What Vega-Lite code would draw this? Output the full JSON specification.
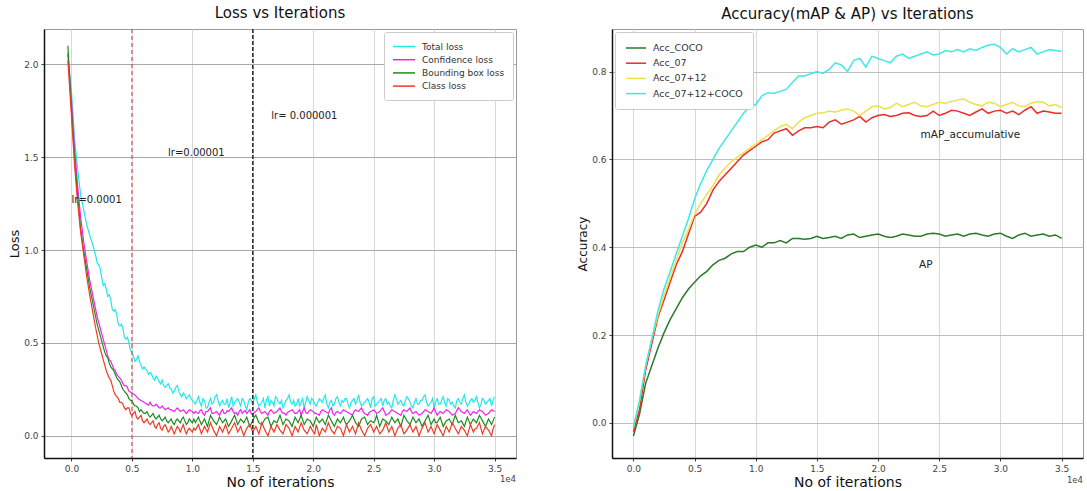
{
"$schema": "https://vega.github.io/schema/vega-lite/v6.json",
"padding": {"left": 8, "top": 5, "right": 0, "bottom": 0},
"bounds": "flush",
"spacing": 96,
"resolve": {"scale": {"color": "independent"}, "legend": {"color": "independent"}},
"config": {
  "font": "DejaVu Sans",
  "view": {"stroke": "#9a9a9a", "strokeWidth": 1},
  "axis": {"labelFont": "DejaVu Sans", "labelFontSize": 9, "labelColor": "#444444", "tickColor": "#444444", "tickSize": 3, "labelPadding": 3, "domainColor": "#111111", "domainWidth": 1.5, "titleFont": "DejaVu Sans", "titleFontWeight": "normal", "titleColor": "#111111", "gridColor": "#d8d8d8", "gridWidth": 1, "labelFlush": false, "titlePadding": 2},
  "title": {"font": "DejaVu Sans", "fontSize": 15, "fontWeight": "normal", "color": "#111111", "offset": 7},
  "legend": {"title": null, "fillColor": "#ffffff", "strokeColor": "#cccccc", "cornerRadius": 2, "labelFont": "DejaVu Sans", "labelColor": "#333333", "symbolType": "M-1,0L3,0", "symbolStrokeWidth": 1.5}
},
"hconcat": [
{
  "width": 472, "height": 429,
  "title": {"text": "Loss vs Iterations"},
  "layer": [
  {
    "data": {"values": [
{"it":-300,"Total loss":2.05,"Confidence loss":2.06,"Bounding box loss":2.10,"Class loss":2.02},
{"it":0,"Total loss":1.85,"Confidence loss":1.80,"Bounding box loss":1.75,"Class loss":1.72},
{"it":250,"Total loss":1.60,"Confidence loss":1.55,"Bounding box loss":1.50,"Class loss":1.46},
{"it":500,"Total loss":1.44,"Confidence loss":1.35,"Bounding box loss":1.30,"Class loss":1.26},
{"it":750,"Total loss":1.30,"Confidence loss":1.18,"Bounding box loss":1.12,"Class loss":1.10},
{"it":1000,"Total loss":1.22,"Confidence loss":1.05,"Bounding box loss":1.00,"Class loss":0.98},
{"it":1250,"Total loss":1.14,"Confidence loss":0.94,"Bounding box loss":0.90,"Class loss":0.86},
{"it":1500,"Total loss":1.08,"Confidence loss":0.84,"Bounding box loss":0.80,"Class loss":0.76},
{"it":1750,"Total loss":1.03,"Confidence loss":0.76,"Bounding box loss":0.72,"Class loss":0.67},
{"it":2000,"Total loss":0.97,"Confidence loss":0.68,"Bounding box loss":0.64,"Class loss":0.58},
{"it":2250,"Total loss":0.92,"Confidence loss":0.61,"Bounding box loss":0.57,"Class loss":0.50},
{"it":2500,"Total loss":0.85,"Confidence loss":0.55,"Bounding box loss":0.51,"Class loss":0.44},
{"it":2750,"Total loss":0.82,"Confidence loss":0.49,"Bounding box loss":0.45,"Class loss":0.38},
{"it":3000,"Total loss":0.75,"Confidence loss":0.43,"Bounding box loss":0.42,"Class loss":0.33},
{"it":3250,"Total loss":0.73,"Confidence loss":0.40,"Bounding box loss":0.37,"Class loss":0.30},
{"it":3500,"Total loss":0.67,"Confidence loss":0.36,"Bounding box loss":0.35,"Class loss":0.24},
{"it":3750,"Total loss":0.65,"Confidence loss":0.33,"Bounding box loss":0.31,"Class loss":0.21},
{"it":4000,"Total loss":0.59,"Confidence loss":0.31,"Bounding box loss":0.29,"Class loss":0.18},
{"it":4250,"Total loss":0.58,"Confidence loss":0.28,"Bounding box loss":0.25,"Class loss":0.17},
{"it":4500,"Total loss":0.52,"Confidence loss":0.27,"Bounding box loss":0.23,"Class loss":0.14},
{"it":4750,"Total loss":0.50,"Confidence loss":0.24,"Bounding box loss":0.20,"Class loss":0.15},
{"it":5000,"Total loss":0.45,"Confidence loss":0.23,"Bounding box loss":0.19,"Class loss":0.11},
{"it":5250,"Total loss":0.40,"Confidence loss":0.22,"Bounding box loss":0.16,"Class loss":0.13},
{"it":5500,"Total loss":0.43,"Confidence loss":0.20,"Bounding box loss":0.15,"Class loss":0.09},
{"it":5750,"Total loss":0.38,"Confidence loss":0.19,"Bounding box loss":0.14,"Class loss":0.11},
{"it":6000,"Total loss":0.37,"Confidence loss":0.18,"Bounding box loss":0.12,"Class loss":0.07},
{"it":6250,"Total loss":0.35,"Confidence loss":0.17,"Bounding box loss":0.13,"Class loss":0.09},
{"it":6500,"Total loss":0.34,"Confidence loss":0.18,"Bounding box loss":0.10,"Class loss":0.06},
{"it":6750,"Total loss":0.31,"Confidence loss":0.16,"Bounding box loss":0.12,"Class loss":0.08},
{"it":7000,"Total loss":0.32,"Confidence loss":0.17,"Bounding box loss":0.09,"Class loss":0.04},
{"it":7250,"Total loss":0.29,"Confidence loss":0.15,"Bounding box loss":0.11,"Class loss":0.07},
{"it":7500,"Total loss":0.30,"Confidence loss":0.16,"Bounding box loss":0.08,"Class loss":0.03},
{"it":7750,"Total loss":0.26,"Confidence loss":0.14,"Bounding box loss":0.10,"Class loss":0.06},
{"it":8000,"Total loss":0.28,"Confidence loss":0.15,"Bounding box loss":0.07,"Class loss":0.02},
{"it":8250,"Total loss":0.25,"Confidence loss":0.14,"Bounding box loss":0.09,"Class loss":0.05},
{"it":8500,"Total loss":0.24,"Confidence loss":0.13,"Bounding box loss":0.06,"Class loss":0.01},
{"it":8750,"Total loss":0.27,"Confidence loss":0.15,"Bounding box loss":0.09,"Class loss":0.05},
{"it":9000,"Total loss":0.22,"Confidence loss":0.13,"Bounding box loss":0.07,"Class loss":0.02},
{"it":9250,"Total loss":0.23,"Confidence loss":0.14,"Bounding box loss":0.10,"Class loss":0.06},
{"it":9500,"Total loss":0.20,"Confidence loss":0.12,"Bounding box loss":0.06,"Class loss":0.01},
{"it":9750,"Total loss":0.22,"Confidence loss":0.14,"Bounding box loss":0.09,"Class loss":0.04},
{"it":10000,"Total loss":0.19,"Confidence loss":0.13,"Bounding box loss":0.07,"Class loss":0.02},
{"it":10250,"Total loss":0.17,"Confidence loss":0.13,"Bounding box loss":0.07,"Class loss":0.03},
{"it":10500,"Total loss":0.21,"Confidence loss":0.12,"Bounding box loss":0.10,"Class loss":0.06},
{"it":10750,"Total loss":0.16,"Confidence loss":0.14,"Bounding box loss":0.06,"Class loss":0.01},
{"it":11000,"Total loss":0.19,"Confidence loss":0.11,"Bounding box loss":0.09,"Class loss":0.05},
{"it":11250,"Total loss":0.15,"Confidence loss":0.13,"Bounding box loss":0.05,"Class loss":0.02},
{"it":11500,"Total loss":0.20,"Confidence loss":0.15,"Bounding box loss":0.11,"Class loss":0.07},
{"it":11750,"Total loss":0.18,"Confidence loss":0.12,"Bounding box loss":0.08,"Class loss":0.03},
{"it":12000,"Total loss":0.22,"Confidence loss":0.13,"Bounding box loss":0.06,"Class loss":0.00},
{"it":12250,"Total loss":0.16,"Confidence loss":0.11,"Bounding box loss":0.10,"Class loss":0.05},
{"it":12500,"Total loss":0.19,"Confidence loss":0.14,"Bounding box loss":0.07,"Class loss":0.02},
{"it":12750,"Total loss":0.17,"Confidence loss":0.12,"Bounding box loss":0.09,"Class loss":0.06},
{"it":13000,"Total loss":0.15,"Confidence loss":0.13,"Bounding box loss":0.05,"Class loss":0.01},
{"it":13250,"Total loss":0.21,"Confidence loss":0.15,"Bounding box loss":0.08,"Class loss":0.04},
{"it":13500,"Total loss":0.18,"Confidence loss":0.12,"Bounding box loss":0.11,"Class loss":0.07},
{"it":13750,"Total loss":0.20,"Confidence loss":0.11,"Bounding box loss":0.06,"Class loss":0.02},
{"it":14000,"Total loss":0.16,"Confidence loss":0.14,"Bounding box loss":0.09,"Class loss":0.05},
{"it":14250,"Total loss":0.19,"Confidence loss":0.13,"Bounding box loss":0.07,"Class loss":0.00},
{"it":14500,"Total loss":0.14,"Confidence loss":0.12,"Bounding box loss":0.10,"Class loss":0.04},
{"it":14750,"Total loss":0.20,"Confidence loss":0.14,"Bounding box loss":0.05,"Class loss":0.06},
{"it":15000,"Total loss":0.17,"Confidence loss":0.11,"Bounding box loss":0.08,"Class loss":0.02},
{"it":15250,"Total loss":0.22,"Confidence loss":0.13,"Bounding box loss":0.11,"Class loss":0.05},
{"it":15500,"Total loss":0.16,"Confidence loss":0.15,"Bounding box loss":0.07,"Class loss":0.01},
{"it":15750,"Total loss":0.18,"Confidence loss":0.12,"Bounding box loss":0.06,"Class loss":0.07},
{"it":16000,"Total loss":0.15,"Confidence loss":0.13,"Bounding box loss":0.09,"Class loss":0.03},
{"it":16250,"Total loss":0.21,"Confidence loss":0.11,"Bounding box loss":0.10,"Class loss":0.00},
{"it":16500,"Total loss":0.19,"Confidence loss":0.14,"Bounding box loss":0.05,"Class loss":0.05},
{"it":16750,"Total loss":0.16,"Confidence loss":0.12,"Bounding box loss":0.08,"Class loss":0.02},
{"it":17000,"Total loss":0.20,"Confidence loss":0.13,"Bounding box loss":0.07,"Class loss":0.06},
{"it":17250,"Total loss":0.17,"Confidence loss":0.15,"Bounding box loss":0.11,"Class loss":0.03},
{"it":17500,"Total loss":0.15,"Confidence loss":0.12,"Bounding box loss":0.06,"Class loss":0.01},
{"it":17750,"Total loss":0.19,"Confidence loss":0.11,"Bounding box loss":0.09,"Class loss":0.06},
{"it":18000,"Total loss":0.22,"Confidence loss":0.13,"Bounding box loss":0.08,"Class loss":0.04},
{"it":18250,"Total loss":0.17,"Confidence loss":0.14,"Bounding box loss":0.05,"Class loss":0.00},
{"it":18500,"Total loss":0.16,"Confidence loss":0.12,"Bounding box loss":0.10,"Class loss":0.05},
{"it":18750,"Total loss":0.20,"Confidence loss":0.13,"Bounding box loss":0.07,"Class loss":0.02},
{"it":19000,"Total loss":0.18,"Confidence loss":0.11,"Bounding box loss":0.11,"Class loss":0.07},
{"it":19250,"Total loss":0.15,"Confidence loss":0.15,"Bounding box loss":0.06,"Class loss":0.03},
{"it":19500,"Total loss":0.21,"Confidence loss":0.12,"Bounding box loss":0.09,"Class loss":0.01},
{"it":19750,"Total loss":0.17,"Confidence loss":0.14,"Bounding box loss":0.08,"Class loss":0.05},
{"it":20000,"Total loss":0.19,"Confidence loss":0.13,"Bounding box loss":0.05,"Class loss":0.02},
{"it":20250,"Total loss":0.16,"Confidence loss":0.12,"Bounding box loss":0.10,"Class loss":0.06},
{"it":20500,"Total loss":0.20,"Confidence loss":0.11,"Bounding box loss":0.07,"Class loss":0.00},
{"it":20750,"Total loss":0.18,"Confidence loss":0.14,"Bounding box loss":0.09,"Class loss":0.04},
{"it":21000,"Total loss":0.22,"Confidence loss":0.13,"Bounding box loss":0.06,"Class loss":0.02},
{"it":21250,"Total loss":0.15,"Confidence loss":0.12,"Bounding box loss":0.11,"Class loss":0.07},
{"it":21500,"Total loss":0.19,"Confidence loss":0.15,"Bounding box loss":0.08,"Class loss":0.03},
{"it":21750,"Total loss":0.17,"Confidence loss":0.11,"Bounding box loss":0.05,"Class loss":0.01},
{"it":22000,"Total loss":0.21,"Confidence loss":0.13,"Bounding box loss":0.09,"Class loss":0.05},
{"it":22250,"Total loss":0.16,"Confidence loss":0.12,"Bounding box loss":0.07,"Class loss":0.04},
{"it":22500,"Total loss":0.18,"Confidence loss":0.14,"Bounding box loss":0.10,"Class loss":0.00},
{"it":22750,"Total loss":0.20,"Confidence loss":0.13,"Bounding box loss":0.06,"Class loss":0.06},
{"it":23000,"Total loss":0.15,"Confidence loss":0.12,"Bounding box loss":0.08,"Class loss":0.02},
{"it":23250,"Total loss":0.19,"Confidence loss":0.11,"Bounding box loss":0.11,"Class loss":0.05},
{"it":23500,"Total loss":0.17,"Confidence loss":0.14,"Bounding box loss":0.07,"Class loss":0.01},
{"it":23750,"Total loss":0.22,"Confidence loss":0.13,"Bounding box loss":0.05,"Class loss":0.07},
{"it":24000,"Total loss":0.16,"Confidence loss":0.15,"Bounding box loss":0.09,"Class loss":0.03},
{"it":24250,"Total loss":0.18,"Confidence loss":0.12,"Bounding box loss":0.10,"Class loss":0.00},
{"it":24500,"Total loss":0.20,"Confidence loss":0.11,"Bounding box loss":0.06,"Class loss":0.04},
{"it":24750,"Total loss":0.15,"Confidence loss":0.13,"Bounding box loss":0.08,"Class loss":0.06},
{"it":25000,"Total loss":0.21,"Confidence loss":0.14,"Bounding box loss":0.07,"Class loss":0.02},
{"it":25250,"Total loss":0.17,"Confidence loss":0.12,"Bounding box loss":0.11,"Class loss":0.05},
{"it":25500,"Total loss":0.19,"Confidence loss":0.13,"Bounding box loss":0.05,"Class loss":0.01},
{"it":25750,"Total loss":0.16,"Confidence loss":0.15,"Bounding box loss":0.09,"Class loss":0.03},
{"it":26000,"Total loss":0.20,"Confidence loss":0.11,"Bounding box loss":0.08,"Class loss":0.07},
{"it":26250,"Total loss":0.18,"Confidence loss":0.12,"Bounding box loss":0.06,"Class loss":0.02},
{"it":26500,"Total loss":0.15,"Confidence loss":0.14,"Bounding box loss":0.10,"Class loss":0.05},
{"it":26750,"Total loss":0.22,"Confidence loss":0.13,"Bounding box loss":0.07,"Class loss":0.00},
{"it":27000,"Total loss":0.17,"Confidence loss":0.12,"Bounding box loss":0.09,"Class loss":0.04},
{"it":27250,"Total loss":0.19,"Confidence loss":0.11,"Bounding box loss":0.05,"Class loss":0.06},
{"it":27500,"Total loss":0.16,"Confidence loss":0.14,"Bounding box loss":0.11,"Class loss":0.01},
{"it":27750,"Total loss":0.21,"Confidence loss":0.13,"Bounding box loss":0.08,"Class loss":0.03},
{"it":28000,"Total loss":0.18,"Confidence loss":0.15,"Bounding box loss":0.06,"Class loss":0.06},
{"it":28250,"Total loss":0.15,"Confidence loss":0.12,"Bounding box loss":0.10,"Class loss":0.02},
{"it":28500,"Total loss":0.20,"Confidence loss":0.13,"Bounding box loss":0.07,"Class loss":0.05},
{"it":28750,"Total loss":0.17,"Confidence loss":0.11,"Bounding box loss":0.09,"Class loss":0.00},
{"it":29000,"Total loss":0.19,"Confidence loss":0.12,"Bounding box loss":0.05,"Class loss":0.04},
{"it":29250,"Total loss":0.22,"Confidence loss":0.14,"Bounding box loss":0.08,"Class loss":0.07},
{"it":29500,"Total loss":0.16,"Confidence loss":0.13,"Bounding box loss":0.11,"Class loss":0.02},
{"it":29750,"Total loss":0.18,"Confidence loss":0.12,"Bounding box loss":0.06,"Class loss":0.05},
{"it":30000,"Total loss":0.15,"Confidence loss":0.15,"Bounding box loss":0.09,"Class loss":0.01},
{"it":30250,"Total loss":0.20,"Confidence loss":0.11,"Bounding box loss":0.07,"Class loss":0.06},
{"it":30500,"Total loss":0.17,"Confidence loss":0.13,"Bounding box loss":0.10,"Class loss":0.03},
{"it":30750,"Total loss":0.21,"Confidence loss":0.12,"Bounding box loss":0.05,"Class loss":0.00},
{"it":31000,"Total loss":0.16,"Confidence loss":0.14,"Bounding box loss":0.08,"Class loss":0.05},
{"it":31250,"Total loss":0.19,"Confidence loss":0.13,"Bounding box loss":0.09,"Class loss":0.02},
{"it":31500,"Total loss":0.18,"Confidence loss":0.11,"Bounding box loss":0.06,"Class loss":0.07},
{"it":31750,"Total loss":0.15,"Confidence loss":0.12,"Bounding box loss":0.11,"Class loss":0.04},
{"it":32000,"Total loss":0.20,"Confidence loss":0.15,"Bounding box loss":0.07,"Class loss":0.01},
{"it":32250,"Total loss":0.17,"Confidence loss":0.13,"Bounding box loss":0.08,"Class loss":0.05},
{"it":32500,"Total loss":0.22,"Confidence loss":0.12,"Bounding box loss":0.05,"Class loss":0.03},
{"it":32750,"Total loss":0.16,"Confidence loss":0.14,"Bounding box loss":0.10,"Class loss":0.00},
{"it":33000,"Total loss":0.19,"Confidence loss":0.11,"Bounding box loss":0.06,"Class loss":0.06},
{"it":33250,"Total loss":0.18,"Confidence loss":0.13,"Bounding box loss":0.09,"Class loss":0.02},
{"it":33500,"Total loss":0.21,"Confidence loss":0.12,"Bounding box loss":0.07,"Class loss":0.04},
{"it":33750,"Total loss":0.15,"Confidence loss":0.14,"Bounding box loss":0.11,"Class loss":0.07},
{"it":34000,"Total loss":0.20,"Confidence loss":0.13,"Bounding box loss":0.08,"Class loss":0.01},
{"it":34250,"Total loss":0.17,"Confidence loss":0.11,"Bounding box loss":0.05,"Class loss":0.05},
{"it":34500,"Total loss":0.19,"Confidence loss":0.12,"Bounding box loss":0.09,"Class loss":0.03},
{"it":34750,"Total loss":0.16,"Confidence loss":0.14,"Bounding box loss":0.06,"Class loss":0.00},
{"it":35000,"Total loss":0.21,"Confidence loss":0.13,"Bounding box loss":0.10,"Class loss":0.06},
{"it":2125,"Total loss":0.93,"Confidence loss":0.64,"Bounding box loss":0.60,"Class loss":0.54},
{"it":2375,"Total loss":0.90,"Confidence loss":0.58,"Bounding box loss":0.54,"Class loss":0.47},
{"it":2625,"Total loss":0.81,"Confidence loss":0.52,"Bounding box loss":0.48,"Class loss":0.41},
{"it":2875,"Total loss":0.79,"Confidence loss":0.46,"Bounding box loss":0.43,"Class loss":0.35},
{"it":3125,"Total loss":0.76,"Confidence loss":0.41,"Bounding box loss":0.39,"Class loss":0.31},
{"it":3375,"Total loss":0.68,"Confidence loss":0.38,"Bounding box loss":0.36,"Class loss":0.27},
{"it":3625,"Total loss":0.68,"Confidence loss":0.35,"Bounding box loss":0.33,"Class loss":0.22},
{"it":3875,"Total loss":0.60,"Confidence loss":0.32,"Bounding box loss":0.30,"Class loss":0.20},
{"it":4125,"Total loss":0.60,"Confidence loss":0.30,"Bounding box loss":0.27,"Class loss":0.18},
{"it":4375,"Total loss":0.53,"Confidence loss":0.27,"Bounding box loss":0.24,"Class loss":0.15},
{"it":4625,"Total loss":0.53,"Confidence loss":0.26,"Bounding box loss":0.22,"Class loss":0.15},
{"it":4875,"Total loss":0.46,"Confidence loss":0.235,"Bounding box loss":0.19,"Class loss":0.12},
{"it":5125,"Total loss":0.43,"Confidence loss":0.225,"Bounding box loss":0.17,"Class loss":0.12},
{"it":5375,"Total loss":0.41,"Confidence loss":0.21,"Bounding box loss":0.16,"Class loss":0.10},
{"it":5625,"Total loss":0.40,"Confidence loss":0.195,"Bounding box loss":0.13,"Class loss":0.10},
{"it":5875,"Total loss":0.36,"Confidence loss":0.185,"Bounding box loss":0.13,"Class loss":0.08},
{"it":6125,"Total loss":0.36,"Confidence loss":0.175,"Bounding box loss":0.12,"Class loss":0.08},
{"it":6375,"Total loss":0.33,"Confidence loss":0.165,"Bounding box loss":0.11,"Class loss":0.07},
{"it":6625,"Total loss":0.33,"Confidence loss":0.165,"Bounding box loss":0.11,"Class loss":0.07},
{"it":6875,"Total loss":0.30,"Confidence loss":0.16,"Bounding box loss":0.10,"Class loss":0.05},
{"it":7125,"Total loss":0.31,"Confidence loss":0.16,"Bounding box loss":0.10,"Class loss":0.06},
{"it":7375,"Total loss":0.28,"Confidence loss":0.15,"Bounding box loss":0.09,"Class loss":0.04},
{"it":7625,"Total loss":0.27,"Confidence loss":0.15,"Bounding box loss":0.09,"Class loss":0.05},
{"it":7875,"Total loss":0.27,"Confidence loss":0.145,"Bounding box loss":0.08,"Class loss":0.04},
{"it":8125,"Total loss":0.26,"Confidence loss":0.14,"Bounding box loss":0.08,"Class loss":0.03},
{"it":8375,"Total loss":0.23,"Confidence loss":0.135,"Bounding box loss":0.07,"Class loss":0.03},
{"it":8625,"Total loss":0.26,"Confidence loss":0.14,"Bounding box loss":0.08,"Class loss":0.03},
{"it":8875,"Total loss":0.24,"Confidence loss":0.14,"Bounding box loss":0.08,"Class loss":0.04},
{"it":9125,"Total loss":0.21,"Confidence loss":0.135,"Bounding box loss":0.09,"Class loss":0.04},
{"it":9375,"Total loss":0.22,"Confidence loss":0.13,"Bounding box loss":0.08,"Class loss":0.03},
{"it":9625,"Total loss":0.21,"Confidence loss":0.13,"Bounding box loss":0.07,"Class loss":0.03},
{"it":9875,"Total loss":0.20,"Confidence loss":0.135,"Bounding box loss":0.08,"Class loss":0.03},
{"it":10125,"Total loss":0.18,"Confidence loss":0.12,"Bounding box loss":0.09,"Class loss":0.04},
{"it":10375,"Total loss":0.19,"Confidence loss":0.125,"Bounding box loss":0.085,"Class loss":0.045},
{"it":10625,"Total loss":0.18,"Confidence loss":0.135,"Bounding box loss":0.08,"Class loss":0.035},
{"it":10875,"Total loss":0.20,"Confidence loss":0.12,"Bounding box loss":0.075,"Class loss":0.03},
{"it":11125,"Total loss":0.15,"Confidence loss":0.13,"Bounding box loss":0.07,"Class loss":0.035},
{"it":11375,"Total loss":0.18,"Confidence loss":0.14,"Bounding box loss":0.08,"Class loss":0.045},
{"it":11625,"Total loss":0.17,"Confidence loss":0.12,"Bounding box loss":0.095,"Class loss":0.05},
{"it":11875,"Total loss":0.21,"Confidence loss":0.125,"Bounding box loss":0.07,"Class loss":0.015},
{"it":12125,"Total loss":0.19,"Confidence loss":0.12,"Bounding box loss":0.08,"Class loss":0.025},
{"it":12375,"Total loss":0.18,"Confidence loss":0.13,"Bounding box loss":0.085,"Class loss":0.035},
{"it":12625,"Total loss":0.17,"Confidence loss":0.12,"Bounding box loss":0.08,"Class loss":0.04},
{"it":12875,"Total loss":0.20,"Confidence loss":0.135,"Bounding box loss":0.07,"Class loss":0.035},
{"it":13125,"Total loss":0.18,"Confidence loss":0.14,"Bounding box loss":0.065,"Class loss":0.025},
{"it":13375,"Total loss":0.16,"Confidence loss":0.13,"Bounding box loss":0.095,"Class loss":0.055},
{"it":13625,"Total loss":0.19,"Confidence loss":0.125,"Bounding box loss":0.085,"Class loss":0.045},
{"it":13875,"Total loss":0.18,"Confidence loss":0.13,"Bounding box loss":0.075,"Class loss":0.035},
{"it":14125,"Total loss":0.20,"Confidence loss":0.12,"Bounding box loss":0.08,"Class loss":0.025},
{"it":14375,"Total loss":0.16,"Confidence loss":0.135,"Bounding box loss":0.085,"Class loss":0.02},
{"it":14625,"Total loss":0.18,"Confidence loss":0.13,"Bounding box loss":0.075,"Class loss":0.05},
{"it":14875,"Total loss":0.19,"Confidence loss":0.12,"Bounding box loss":0.065,"Class loss":0.04},
{"it":15125,"Total loss":0.20,"Confidence loss":0.125,"Bounding box loss":0.10,"Class loss":0.035},
{"it":15375,"Total loss":0.18,"Confidence loss":0.14,"Bounding box loss":0.09,"Class loss":0.03},
{"it":15625,"Total loss":0.17,"Confidence loss":0.13,"Bounding box loss":0.065,"Class loss":0.04},
{"it":15875,"Total loss":0.20,"Confidence loss":0.125,"Bounding box loss":0.075,"Class loss":0.05},
{"it":16125,"Total loss":0.19,"Confidence loss":0.12,"Bounding box loss":0.095,"Class loss":0.015},
{"it":16375,"Total loss":0.16,"Confidence loss":0.13,"Bounding box loss":0.075,"Class loss":0.025},
{"it":16625,"Total loss":0.18,"Confidence loss":0.13,"Bounding box loss":0.065,"Class loss":0.035},
{"it":16875,"Total loss":0.21,"Confidence loss":0.125,"Bounding box loss":0.075,"Class loss":0.04},
{"it":17125,"Total loss":0.18,"Confidence loss":0.14,"Bounding box loss":0.09,"Class loss":0.045},
{"it":17375,"Total loss":0.19,"Confidence loss":0.13,"Bounding box loss":0.085,"Class loss":0.02},
{"it":17625,"Total loss":0.17,"Confidence loss":0.12,"Bounding box loss":0.075,"Class loss":0.035},
{"it":17875,"Total loss":0.20,"Confidence loss":0.125,"Bounding box loss":0.085,"Class loss":0.05},
{"it":18125,"Total loss":0.18,"Confidence loss":0.135,"Bounding box loss":0.065,"Class loss":0.02},
{"it":18375,"Total loss":0.19,"Confidence loss":0.13,"Bounding box loss":0.075,"Class loss":0.025},
{"it":18625,"Total loss":0.17,"Confidence loss":0.12,"Bounding box loss":0.085,"Class loss":0.035},
{"it":18875,"Total loss":0.16,"Confidence loss":0.14,"Bounding box loss":0.09,"Class loss":0.045},
{"it":19125,"Total loss":0.20,"Confidence loss":0.13,"Bounding box loss":0.085,"Class loss":0.05},
{"it":19375,"Total loss":0.18,"Confidence loss":0.125,"Bounding box loss":0.075,"Class loss":0.02},
{"it":19625,"Total loss":0.19,"Confidence loss":0.13,"Bounding box loss":0.085,"Class loss":0.03},
{"it":19875,"Total loss":0.20,"Confidence loss":0.135,"Bounding box loss":0.065,"Class loss":0.035},
{"it":20125,"Total loss":0.17,"Confidence loss":0.12,"Bounding box loss":0.075,"Class loss":0.01},
{"it":20375,"Total loss":0.18,"Confidence loss":0.115,"Bounding box loss":0.085,"Class loss":0.03},
{"it":20625,"Total loss":0.19,"Confidence loss":0.13,"Bounding box loss":0.08,"Class loss":0.02},
{"it":20875,"Total loss":0.20,"Confidence loss":0.135,"Bounding box loss":0.075,"Class loss":0.03},
{"it":21125,"Total loss":0.17,"Confidence loss":0.125,"Bounding box loss":0.085,"Class loss":0.045},
{"it":21375,"Total loss":0.18,"Confidence loss":0.14,"Bounding box loss":0.095,"Class loss":0.05},
{"it":21625,"Total loss":0.16,"Confidence loss":0.12,"Bounding box loss":0.065,"Class loss":0.02},
{"it":21875,"Total loss":0.20,"Confidence loss":0.125,"Bounding box loss":0.07,"Class loss":0.03},
{"it":22125,"Total loss":0.18,"Confidence loss":0.125,"Bounding box loss":0.08,"Class loss":0.045},
{"it":22375,"Total loss":0.19,"Confidence loss":0.13,"Bounding box loss":0.085,"Class loss":0.02},
{"it":22625,"Total loss":0.20,"Confidence loss":0.135,"Bounding box loss":0.075,"Class loss":0.03},
{"it":22875,"Total loss":0.17,"Confidence loss":0.125,"Bounding box loss":0.07,"Class loss":0.04},
{"it":23125,"Total loss":0.18,"Confidence loss":0.115,"Bounding box loss":0.095,"Class loss":0.035},
{"it":23375,"Total loss":0.20,"Confidence loss":0.13,"Bounding box loss":0.09,"Class loss":0.03},
{"it":23625,"Total loss":0.19,"Confidence loss":0.135,"Bounding box loss":0.06,"Class loss":0.04},
{"it":23875,"Total loss":0.18,"Confidence loss":0.14,"Bounding box loss":0.07,"Class loss":0.05},
{"it":24125,"Total loss":0.17,"Confidence loss":0.13,"Bounding box loss":0.095,"Class loss":0.015},
{"it":24375,"Total loss":0.19,"Confidence loss":0.115,"Bounding box loss":0.08,"Class loss":0.02},
{"it":24625,"Total loss":0.18,"Confidence loss":0.125,"Bounding box loss":0.07,"Class loss":0.05},
{"it":24875,"Total loss":0.20,"Confidence loss":0.135,"Bounding box loss":0.075,"Class loss":0.04},
{"it":25125,"Total loss":0.16,"Confidence loss":0.13,"Bounding box loss":0.085,"Class loss":0.035},
{"it":25375,"Total loss":0.18,"Confidence loss":0.125,"Bounding box loss":0.08,"Class loss":0.03},
{"it":25625,"Total loss":0.20,"Confidence loss":0.14,"Bounding box loss":0.07,"Class loss":0.02},
{"it":25875,"Total loss":0.19,"Confidence loss":0.13,"Bounding box loss":0.085,"Class loss":0.05},
{"it":26125,"Total loss":0.17,"Confidence loss":0.115,"Bounding box loss":0.07,"Class loss":0.045},
{"it":26375,"Total loss":0.16,"Confidence loss":0.13,"Bounding box loss":0.08,"Class loss":0.035},
{"it":26625,"Total loss":0.19,"Confidence loss":0.135,"Bounding box loss":0.085,"Class loss":0.025},
{"it":26875,"Total loss":0.20,"Confidence loss":0.125,"Bounding box loss":0.08,"Class loss":0.02},
{"it":27125,"Total loss":0.18,"Confidence loss":0.115,"Bounding box loss":0.07,"Class loss":0.05},
{"it":27375,"Total loss":0.17,"Confidence loss":0.13,"Bounding box loss":0.08,"Class loss":0.035},
{"it":27625,"Total loss":0.19,"Confidence loss":0.135,"Bounding box loss":0.095,"Class loss":0.02},
{"it":27875,"Total loss":0.20,"Confidence loss":0.14,"Bounding box loss":0.07,"Class loss":0.045},
{"it":28125,"Total loss":0.16,"Confidence loss":0.13,"Bounding box loss":0.08,"Class loss":0.04},
{"it":28375,"Total loss":0.18,"Confidence loss":0.125,"Bounding box loss":0.085,"Class loss":0.035},
{"it":28625,"Total loss":0.17,"Confidence loss":0.12,"Bounding box loss":0.08,"Class loss":0.025},
{"it":28875,"Total loss":0.19,"Confidence loss":0.115,"Bounding box loss":0.07,"Class loss":0.02},
{"it":29125,"Total loss":0.21,"Confidence loss":0.13,"Bounding box loss":0.065,"Class loss":0.055},
{"it":29375,"Total loss":0.18,"Confidence loss":0.135,"Bounding box loss":0.095,"Class loss":0.045},
{"it":29625,"Total loss":0.17,"Confidence loss":0.125,"Bounding box loss":0.085,"Class loss":0.035},
{"it":29875,"Total loss":0.20,"Confidence loss":0.135,"Bounding box loss":0.075,"Class loss":0.03},
{"it":30125,"Total loss":0.18,"Confidence loss":0.13,"Bounding box loss":0.07,"Class loss":0.035},
{"it":30375,"Total loss":0.17,"Confidence loss":0.12,"Bounding box loss":0.085,"Class loss":0.045},
{"it":30625,"Total loss":0.19,"Confidence loss":0.125,"Bounding box loss":0.075,"Class loss":0.015},
{"it":30875,"Total loss":0.18,"Confidence loss":0.13,"Bounding box loss":0.065,"Class loss":0.025},
{"it":31125,"Total loss":0.20,"Confidence loss":0.135,"Bounding box loss":0.085,"Class loss":0.035},
{"it":31375,"Total loss":0.17,"Confidence loss":0.12,"Bounding box loss":0.075,"Class loss":0.045},
{"it":31625,"Total loss":0.16,"Confidence loss":0.115,"Bounding box loss":0.085,"Class loss":0.055},
{"it":31875,"Total loss":0.19,"Confidence loss":0.135,"Bounding box loss":0.09,"Class loss":0.025},
{"it":32125,"Total loss":0.18,"Confidence loss":0.14,"Bounding box loss":0.075,"Class loss":0.03},
{"it":32375,"Total loss":0.20,"Confidence loss":0.125,"Bounding box loss":0.065,"Class loss":0.04},
{"it":32625,"Total loss":0.18,"Confidence loss":0.13,"Bounding box loss":0.075,"Class loss":0.015},
{"it":32875,"Total loss":0.17,"Confidence loss":0.125,"Bounding box loss":0.08,"Class loss":0.03},
{"it":33125,"Total loss":0.20,"Confidence loss":0.12,"Bounding box loss":0.075,"Class loss":0.04},
{"it":33375,"Total loss":0.19,"Confidence loss":0.125,"Bounding box loss":0.08,"Class loss":0.035},
{"it":33625,"Total loss":0.18,"Confidence loss":0.13,"Bounding box loss":0.09,"Class loss":0.055},
{"it":33875,"Total loss":0.17,"Confidence loss":0.135,"Bounding box loss":0.095,"Class loss":0.04},
{"it":34125,"Total loss":0.19,"Confidence loss":0.12,"Bounding box loss":0.065,"Class loss":0.03},
{"it":34375,"Total loss":0.18,"Confidence loss":0.115,"Bounding box loss":0.07,"Class loss":0.04},
{"it":34625,"Total loss":0.20,"Confidence loss":0.13,"Bounding box loss":0.075,"Class loss":0.015},
{"it":34875,"Total loss":0.19,"Confidence loss":0.135,"Bounding box loss":0.08,"Class loss":0.035}
    ]},
    "transform": [{"fold": ["Total loss", "Confidence loss", "Bounding box loss", "Class loss"], "as": ["series", "loss"]}],
    "mark": {"type": "line", "strokeWidth": 1.2},
    "encoding": {
      "x": {"field": "it", "type": "quantitative", "scale": {"domain": [-2275, 36775], "nice": false, "zero": false},
            "axis": {"values": [0, 5000, 10000, 15000, 20000, 25000, 30000, 35000], "labelExpr": "format(datum.value / 10000, '.1f')", "title": "No of iterations", "titleFontSize": 14, "gridColor": "#d8d8d8"}},
      "y": {"field": "loss", "type": "quantitative", "scale": {"domain": [-0.12, 2.19], "nice": false, "zero": false},
            "axis": {"values": [0, 0.5, 1, 1.5, 2], "format": ".1f", "title": "Loss", "titleFontSize": 13, "gridColor": "#a8a8a8"}},
      "color": {"field": "series", "type": "nominal",
                "scale": {"domain": ["Total loss", "Confidence loss", "Bounding box loss", "Class loss"], "range": ["#22e8e8", "#ee22ee", "#1e8c1e", "#f03a22"]},
                "legend": {"orient": "top-right", "offset": 3, "padding": 8, "labelFontSize": 9, "symbolSize": 121, "rowPadding": 1.2, "labelOffset": 17}}
    }
  },
  {
    "data": {"values": [{"it": 5000}]},
    "mark": {"type": "rule", "color": "#e03030", "strokeDash": [4, 3], "strokeWidth": 1},
    "encoding": {"x": {"field": "it", "type": "quantitative"}}
  },
  {
    "data": {"values": [{"it": 15000}]},
    "mark": {"type": "rule", "color": "#333333", "strokeDash": [4, 2], "strokeWidth": 1.6},
    "encoding": {"x": {"field": "it", "type": "quantitative"}}
  },
  {
    "data": {"values": [
      {"it": 0, "loss": 1.27, "label": "lr=0.0001"},
      {"it": 7990, "loss": 1.524, "label": "lr=0.00001"},
      {"it": 16530, "loss": 1.72, "label": "lr= 0.000001"}
    ]},
    "mark": {"type": "text", "align": "left", "baseline": "middle", "fontSize": 10, "color": "#222222"},
    "encoding": {"x": {"field": "it", "type": "quantitative"}, "y": {"field": "loss", "type": "quantitative"}, "text": {"field": "label"}}
  },
  {
    "data": {"values": [{"it": 36775, "loss": -0.235, "label": "1e4"}]},
    "mark": {"type": "text", "align": "right", "baseline": "middle", "fontSize": 8.5, "color": "#444444"},
    "encoding": {"x": {"field": "it", "type": "quantitative"}, "y": {"field": "loss", "type": "quantitative"}, "text": {"field": "label"}}
  }
  ]
},
{
  "width": 471, "height": 429,
  "title": {"text": "Accuracy(mAP  & AP) vs Iterations"},
  "layer": [
  {
    "data": {"values": [
{"it":0,"Acc_COCO":-0.03,"Acc_07":-0.02,"Acc_07+12":-0.01,"Acc_07+12+COCO":-0.01},
{"it":500,"Acc_COCO":0.02,"Acc_07":0.03,"Acc_07+12":0.05,"Acc_07+12+COCO":0.05},
{"it":1000,"Acc_COCO":0.09,"Acc_07":0.12,"Acc_07+12":0.13,"Acc_07+12+COCO":0.13},
{"it":1500,"Acc_COCO":0.13,"Acc_07":0.18,"Acc_07+12":0.19,"Acc_07+12+COCO":0.19},
{"it":2000,"Acc_COCO":0.17,"Acc_07":0.24,"Acc_07+12":0.245,"Acc_07+12+COCO":0.255},
{"it":2500,"Acc_COCO":0.205,"Acc_07":0.28,"Acc_07+12":0.29,"Acc_07+12+COCO":0.305},
{"it":3000,"Acc_COCO":0.235,"Acc_07":0.32,"Acc_07+12":0.33,"Acc_07+12+COCO":0.345},
{"it":3500,"Acc_COCO":0.26,"Acc_07":0.36,"Acc_07+12":0.37,"Acc_07+12+COCO":0.385},
{"it":4000,"Acc_COCO":0.285,"Acc_07":0.39,"Acc_07+12":0.41,"Acc_07+12+COCO":0.425},
{"it":4500,"Acc_COCO":0.305,"Acc_07":0.43,"Acc_07+12":0.44,"Acc_07+12+COCO":0.465},
{"it":5000,"Acc_COCO":0.32,"Acc_07":0.47,"Acc_07+12":0.475,"Acc_07+12+COCO":0.51},
{"it":5500,"Acc_COCO":0.335,"Acc_07":0.48,"Acc_07+12":0.50,"Acc_07+12+COCO":0.545},
{"it":6000,"Acc_COCO":0.345,"Acc_07":0.50,"Acc_07+12":0.52,"Acc_07+12+COCO":0.575},
{"it":6500,"Acc_COCO":0.36,"Acc_07":0.53,"Acc_07+12":0.54,"Acc_07+12+COCO":0.60},
{"it":7000,"Acc_COCO":0.37,"Acc_07":0.55,"Acc_07+12":0.565,"Acc_07+12+COCO":0.625},
{"it":7500,"Acc_COCO":0.375,"Acc_07":0.565,"Acc_07+12":0.58,"Acc_07+12+COCO":0.645},
{"it":8000,"Acc_COCO":0.385,"Acc_07":0.58,"Acc_07+12":0.595,"Acc_07+12+COCO":0.665},
{"it":8500,"Acc_COCO":0.39,"Acc_07":0.595,"Acc_07+12":0.605,"Acc_07+12+COCO":0.685},
{"it":9000,"Acc_COCO":0.39,"Acc_07":0.61,"Acc_07+12":0.615,"Acc_07+12+COCO":0.705},
{"it":9500,"Acc_COCO":0.40,"Acc_07":0.62,"Acc_07+12":0.625,"Acc_07+12+COCO":0.72},
{"it":10000,"Acc_COCO":0.405,"Acc_07":0.63,"Acc_07+12":0.635,"Acc_07+12+COCO":0.725},
{"it":10500,"Acc_COCO":0.40,"Acc_07":0.64,"Acc_07+12":0.645,"Acc_07+12+COCO":0.745},
{"it":11000,"Acc_COCO":0.41,"Acc_07":0.645,"Acc_07+12":0.655,"Acc_07+12+COCO":0.752},
{"it":11500,"Acc_COCO":0.41,"Acc_07":0.66,"Acc_07+12":0.665,"Acc_07+12+COCO":0.75},
{"it":12000,"Acc_COCO":0.415,"Acc_07":0.665,"Acc_07+12":0.675,"Acc_07+12+COCO":0.755},
{"it":12500,"Acc_COCO":0.41,"Acc_07":0.67,"Acc_07+12":0.68,"Acc_07+12+COCO":0.76},
{"it":13000,"Acc_COCO":0.42,"Acc_07":0.655,"Acc_07+12":0.67,"Acc_07+12+COCO":0.775},
{"it":13500,"Acc_COCO":0.42,"Acc_07":0.665,"Acc_07+12":0.685,"Acc_07+12+COCO":0.79},
{"it":14000,"Acc_COCO":0.418,"Acc_07":0.672,"Acc_07+12":0.695,"Acc_07+12+COCO":0.79},
{"it":14500,"Acc_COCO":0.42,"Acc_07":0.672,"Acc_07+12":0.70,"Acc_07+12+COCO":0.795},
{"it":15000,"Acc_COCO":0.425,"Acc_07":0.675,"Acc_07+12":0.705,"Acc_07+12+COCO":0.80},
{"it":15500,"Acc_COCO":0.42,"Acc_07":0.672,"Acc_07+12":0.706,"Acc_07+12+COCO":0.796},
{"it":16000,"Acc_COCO":0.422,"Acc_07":0.685,"Acc_07+12":0.71,"Acc_07+12+COCO":0.805},
{"it":16500,"Acc_COCO":0.425,"Acc_07":0.69,"Acc_07+12":0.708,"Acc_07+12+COCO":0.82},
{"it":17000,"Acc_COCO":0.42,"Acc_07":0.68,"Acc_07+12":0.712,"Acc_07+12+COCO":0.815},
{"it":17500,"Acc_COCO":0.428,"Acc_07":0.685,"Acc_07+12":0.715,"Acc_07+12+COCO":0.80},
{"it":18000,"Acc_COCO":0.43,"Acc_07":0.69,"Acc_07+12":0.71,"Acc_07+12+COCO":0.825},
{"it":18500,"Acc_COCO":0.422,"Acc_07":0.698,"Acc_07+12":0.70,"Acc_07+12+COCO":0.83},
{"it":19000,"Acc_COCO":0.425,"Acc_07":0.685,"Acc_07+12":0.71,"Acc_07+12+COCO":0.81},
{"it":19500,"Acc_COCO":0.428,"Acc_07":0.695,"Acc_07+12":0.72,"Acc_07+12+COCO":0.835},
{"it":20000,"Acc_COCO":0.43,"Acc_07":0.70,"Acc_07+12":0.722,"Acc_07+12+COCO":0.83},
{"it":20500,"Acc_COCO":0.425,"Acc_07":0.702,"Acc_07+12":0.715,"Acc_07+12+COCO":0.825},
{"it":21000,"Acc_COCO":0.422,"Acc_07":0.698,"Acc_07+12":0.718,"Acc_07+12+COCO":0.82},
{"it":21500,"Acc_COCO":0.425,"Acc_07":0.70,"Acc_07+12":0.728,"Acc_07+12+COCO":0.835},
{"it":22000,"Acc_COCO":0.43,"Acc_07":0.705,"Acc_07+12":0.72,"Acc_07+12+COCO":0.84},
{"it":22500,"Acc_COCO":0.428,"Acc_07":0.706,"Acc_07+12":0.725,"Acc_07+12+COCO":0.83},
{"it":23000,"Acc_COCO":0.425,"Acc_07":0.70,"Acc_07+12":0.73,"Acc_07+12+COCO":0.835},
{"it":23500,"Acc_COCO":0.425,"Acc_07":0.698,"Acc_07+12":0.722,"Acc_07+12+COCO":0.84},
{"it":24000,"Acc_COCO":0.43,"Acc_07":0.70,"Acc_07+12":0.72,"Acc_07+12+COCO":0.845},
{"it":24500,"Acc_COCO":0.432,"Acc_07":0.71,"Acc_07+12":0.725,"Acc_07+12+COCO":0.838},
{"it":25000,"Acc_COCO":0.43,"Acc_07":0.70,"Acc_07+12":0.73,"Acc_07+12+COCO":0.84},
{"it":25500,"Acc_COCO":0.425,"Acc_07":0.705,"Acc_07+12":0.728,"Acc_07+12+COCO":0.848},
{"it":26000,"Acc_COCO":0.428,"Acc_07":0.712,"Acc_07+12":0.732,"Acc_07+12+COCO":0.845},
{"it":26500,"Acc_COCO":0.43,"Acc_07":0.71,"Acc_07+12":0.735,"Acc_07+12+COCO":0.85},
{"it":27000,"Acc_COCO":0.425,"Acc_07":0.705,"Acc_07+12":0.738,"Acc_07+12+COCO":0.845},
{"it":27500,"Acc_COCO":0.43,"Acc_07":0.70,"Acc_07+12":0.73,"Acc_07+12+COCO":0.852},
{"it":28000,"Acc_COCO":0.432,"Acc_07":0.708,"Acc_07+12":0.725,"Acc_07+12+COCO":0.848},
{"it":28500,"Acc_COCO":0.428,"Acc_07":0.715,"Acc_07+12":0.722,"Acc_07+12+COCO":0.855},
{"it":29000,"Acc_COCO":0.425,"Acc_07":0.705,"Acc_07+12":0.73,"Acc_07+12+COCO":0.86},
{"it":29500,"Acc_COCO":0.43,"Acc_07":0.71,"Acc_07+12":0.728,"Acc_07+12+COCO":0.862},
{"it":30000,"Acc_COCO":0.432,"Acc_07":0.712,"Acc_07+12":0.72,"Acc_07+12+COCO":0.855},
{"it":30500,"Acc_COCO":0.425,"Acc_07":0.705,"Acc_07+12":0.725,"Acc_07+12+COCO":0.84},
{"it":31000,"Acc_COCO":0.42,"Acc_07":0.71,"Acc_07+12":0.73,"Acc_07+12+COCO":0.852},
{"it":31500,"Acc_COCO":0.428,"Acc_07":0.702,"Acc_07+12":0.722,"Acc_07+12+COCO":0.845},
{"it":32000,"Acc_COCO":0.432,"Acc_07":0.712,"Acc_07+12":0.72,"Acc_07+12+COCO":0.85},
{"it":32500,"Acc_COCO":0.425,"Acc_07":0.72,"Acc_07+12":0.728,"Acc_07+12+COCO":0.855},
{"it":33000,"Acc_COCO":0.428,"Acc_07":0.705,"Acc_07+12":0.732,"Acc_07+12+COCO":0.84},
{"it":33500,"Acc_COCO":0.43,"Acc_07":0.71,"Acc_07+12":0.73,"Acc_07+12+COCO":0.845},
{"it":34000,"Acc_COCO":0.425,"Acc_07":0.708,"Acc_07+12":0.722,"Acc_07+12+COCO":0.85},
{"it":34500,"Acc_COCO":0.428,"Acc_07":0.705,"Acc_07+12":0.725,"Acc_07+12+COCO":0.848},
{"it":35000,"Acc_COCO":0.42,"Acc_07":0.705,"Acc_07+12":0.718,"Acc_07+12+COCO":0.846}
    ]},
    "transform": [{"fold": ["Acc_COCO", "Acc_07", "Acc_07+12", "Acc_07+12+COCO"], "as": ["series", "acc"]}],
    "mark": {"type": "line", "strokeWidth": 1.5},
    "encoding": {
      "x": {"field": "it", "type": "quantitative", "scale": {"domain": [-1750, 36750], "nice": false, "zero": false},
            "axis": {"values": [0, 5000, 10000, 15000, 20000, 25000, 30000, 35000], "labelExpr": "format(datum.value / 10000, '.1f')", "title": "No of iterations", "titleFontSize": 14, "gridColor": "#d8d8d8"}},
      "y": {"field": "acc", "type": "quantitative", "scale": {"domain": [-0.08, 0.897], "nice": false, "zero": false},
            "axis": {"values": [0, 0.2, 0.4, 0.6, 0.8], "format": ".1f", "title": "Accuracy", "titleFontSize": 12, "gridColor": "#bdbdbd"}},
      "color": {"field": "series", "type": "nominal",
                "scale": {"domain": ["Acc_COCO", "Acc_07", "Acc_07+12", "Acc_07+12+COCO"], "range": ["#2a7a2a", "#ee2a2a", "#eee04a", "#3ee8e8"]},
                "legend": {"orient": "top-left", "offset": 3, "padding": 10, "labelFontSize": 9.5, "symbolSize": 100, "rowPadding": 4.2, "labelOffset": 16}}
    }
  },
  {
    "data": {"values": [
      {"it": 23470, "acc": 0.656, "label": "mAP_accumulative"},
      {"it": 23340, "acc": 0.36, "label": "AP"}
    ]},
    "mark": {"type": "text", "align": "left", "baseline": "middle", "fontSize": 10.5, "color": "#222222"},
    "encoding": {"x": {"field": "it", "type": "quantitative"}, "y": {"field": "acc", "type": "quantitative"}, "text": {"field": "label"}}
  },
  {
    "data": {"values": [{"it": 36750, "acc": -0.13, "label": "1e4"}]},
    "mark": {"type": "text", "align": "right", "baseline": "middle", "fontSize": 8.5, "color": "#444444"},
    "encoding": {"x": {"field": "it", "type": "quantitative"}, "y": {"field": "acc", "type": "quantitative"}, "text": {"field": "label"}}
  }
  ]
}
]
}
